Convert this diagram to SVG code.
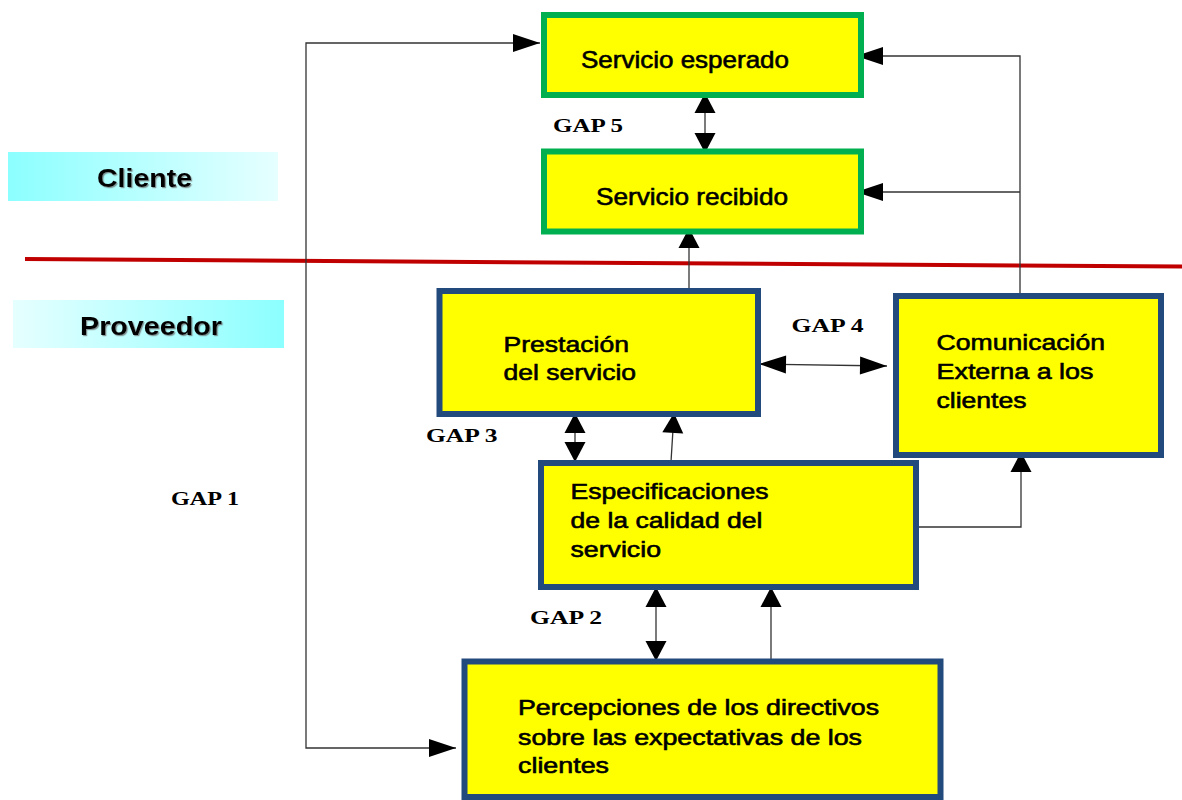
<svg xmlns="http://www.w3.org/2000/svg" width="1182" height="800" viewBox="0 0 1182 800">
<style>
.box{fill:#FFFF00;stroke-width:6}
.g{stroke:#00B050}
.b{stroke:#234A7C}
.t{font-family:"Liberation Sans",Arial,sans-serif;fill:#000;stroke:#000;stroke-width:0.6}
.gap{font-family:"Liberation Serif","Times New Roman",serif;font-weight:bold;font-size:18.5px;fill:#000}
.lbl{font-family:"Liberation Sans",Arial,sans-serif;font-weight:bold;font-size:26.5px;fill:#000;filter:url(#sh)}
.c{fill:none;stroke:#333;stroke-width:1.3}
.hh{marker-end:url(#aH)}
.hv{marker-end:url(#aV)}
.dh{marker-start:url(#aH);marker-end:url(#aH)}
.dv{marker-start:url(#aV);marker-end:url(#aV)}
</style>
<defs>
<marker id="aH" markerUnits="userSpaceOnUse" orient="auto-start-reverse" refX="27" refY="0" markerWidth="30" markerHeight="20" overflow="visible">
<path d="M0,-9 L27,0 L0,9 Z" fill="#000"/>
</marker>
<marker id="aV" markerUnits="userSpaceOnUse" orient="auto-start-reverse" refX="20" refY="0" markerWidth="22" markerHeight="24" overflow="visible">
<path d="M0,-10.5 L20,0 L0,10.5 Z" fill="#000"/>
</marker>
<linearGradient id="gC" x1="0" y1="0" x2="1" y2="0">
<stop offset="0" stop-color="#8CFFFF"/>
<stop offset="1" stop-color="#E6FFFF"/>
</linearGradient>
<linearGradient id="gP" x1="0" y1="0" x2="1" y2="0">
<stop offset="0" stop-color="#E6FFFF"/>
<stop offset="1" stop-color="#8CFFFF"/>
</linearGradient>
<filter id="sh" x="-10%" y="-20%" width="130%" height="150%">
<feDropShadow dx="1.2" dy="1.2" stdDeviation="0.7" flood-color="#666" flood-opacity="0.7"/>
</filter>
</defs>
<rect width="1182" height="800" fill="#fff"/>

<g id="cliente">
<rect x="8" y="152" width="270" height="49" fill="url(#gC)"/>
<text class="lbl" x="97" y="187" textLength="95" lengthAdjust="spacingAndGlyphs">Cliente</text>
</g>
<g id="proveedor">
<rect x="13" y="300" width="271" height="48" fill="url(#gP)"/>
<text class="lbl" x="80" y="335" textLength="142" lengthAdjust="spacingAndGlyphs">Proveedor</text>
</g>

<line id="divisor" x1="25" y1="259" x2="1182" y2="266.5" stroke="#C00000" stroke-width="4"/>

<g id="connectors">
<path class="c dh" d="M540,43 H306 V748 H456"/>
<path class="c dv" d="M705,93 V153"/>
<path class="c hv" d="M689,291 V228"/>
<path class="c hh" d="M1020,293 V56 H856"/>
<path class="c hh" d="M1020,192 H856"/>
<path class="c dh" d="M759,364 L887,366"/>
<path class="c dv" d="M575,413 V462"/>
<path class="c hv" d="M671,462 L674,413"/>
<path class="c hv" d="M918,527 H1021 V452"/>
<path class="c dv" d="M656,587 V661"/>
<path class="c hv" d="M771,659 V587"/>
</g>

<g id="servicio-esperado">
<rect class="box g" x="544" y="15" width="317" height="80"/>
<text class="t" x="581" y="68" font-size="24" textLength="208" lengthAdjust="spacingAndGlyphs">Servicio esperado</text>
</g>
<g id="servicio-recibido">
<rect class="box g" x="544" y="151.5" width="317" height="80"/>
<text class="t" x="596" y="205" font-size="24" textLength="192" lengthAdjust="spacingAndGlyphs">Servicio recibido</text>
</g>
<g id="prestacion">
<rect class="box b" x="439.5" y="291" width="318.5" height="123"/>
<text class="t" font-size="22.5"><tspan x="503.5" y="352" textLength="125.5" lengthAdjust="spacingAndGlyphs">Prestación</tspan><tspan x="503.5" y="380" textLength="132.5" lengthAdjust="spacingAndGlyphs">del servicio</tspan></text>
</g>
<g id="comunicacion">
<rect class="box b" x="896" y="296" width="265" height="159"/>
<text class="t" font-size="22.5"><tspan x="936.5" y="350" textLength="168.5" lengthAdjust="spacingAndGlyphs">Comunicación</tspan><tspan x="936.5" y="379" textLength="157" lengthAdjust="spacingAndGlyphs">Externa a los</tspan><tspan x="936.5" y="408" textLength="90" lengthAdjust="spacingAndGlyphs">clientes</tspan></text>
</g>
<g id="especificaciones">
<rect class="box b" x="541" y="463" width="375" height="124"/>
<text class="t" font-size="22"><tspan x="570.5" y="499" textLength="198" lengthAdjust="spacingAndGlyphs">Especificaciones</tspan><tspan x="570.5" y="528" textLength="192" lengthAdjust="spacingAndGlyphs">de la calidad del</tspan><tspan x="570.5" y="557" textLength="90.5" lengthAdjust="spacingAndGlyphs">servicio</tspan></text>
</g>
<g id="percepciones">
<rect class="box b" x="464.5" y="661.5" width="476" height="135.5"/>
<text class="t" font-size="21.5"><tspan x="518" y="715" textLength="361" lengthAdjust="spacingAndGlyphs">Percepciones de los directivos</tspan><tspan x="518" y="745" textLength="344" lengthAdjust="spacingAndGlyphs">sobre las expectativas de los</tspan><tspan x="518" y="773" textLength="91" lengthAdjust="spacingAndGlyphs">clientes</tspan></text>
</g>

<g id="gaps">
<text class="gap" x="553" y="132" textLength="70" lengthAdjust="spacingAndGlyphs">GAP 5</text>
<text class="gap" x="791.5" y="332" textLength="72" lengthAdjust="spacingAndGlyphs">GAP 4</text>
<text class="gap" x="426" y="442" textLength="71.5" lengthAdjust="spacingAndGlyphs">GAP 3</text>
<text class="gap" x="530" y="624" textLength="72" lengthAdjust="spacingAndGlyphs">GAP 2</text>
<text class="gap" x="171" y="505" textLength="68" lengthAdjust="spacingAndGlyphs">GAP 1</text>
</g>
</svg>
